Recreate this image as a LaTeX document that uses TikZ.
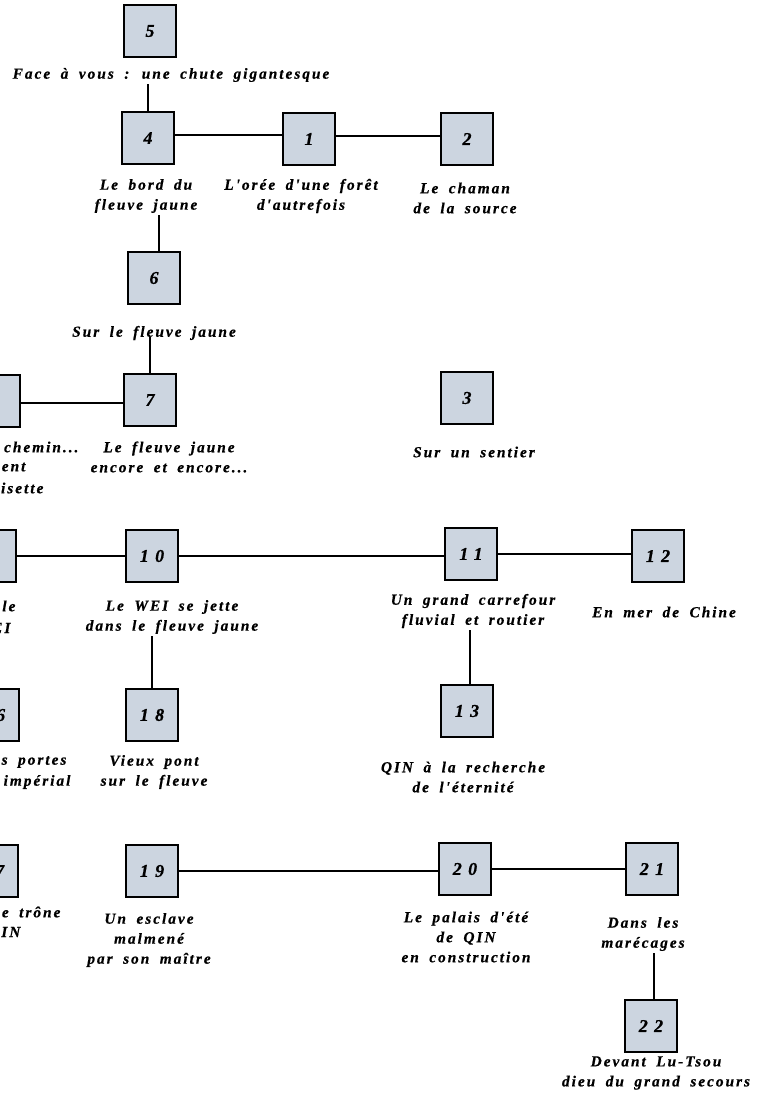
\documentclass[tikz,border=0pt]{standalone}
\usepackage{fontspec}
\newfontfamily\lblfont{Liberation Serif}[LetterSpace=13,WordSpace=1.8,FakeBold=0.6]
\newfontfamily\numfont{Liberation Serif}[LetterSpace=35,FakeBold=0.6]
\definecolor{boxfill}{RGB}{204,213,224}
\begin{document}
\begin{tikzpicture}[x=0.75pt,y=-0.75pt,
  box/.style={draw=black,line width=1.9pt,fill=boxfill,minimum size=38.8pt,inner sep=0pt,
    font=\numfont\bfseries\itshape\fontsize{13.5}{15}\selectfont},
  lbl/.style={align=center,inner sep=1pt,
    font=\lblfont\bfseries\itshape\fontsize{11.5}{15}\selectfont},
  conn/.style={line width=1.3pt}]
\useasboundingbox (0,0) rectangle (756,1094);
\clip (0,0) rectangle (756,1094);
% row 1
\node[box] (b5) at (150,31) {5};
\node[lbl] (t5) at (171,75) {Face à vous : une chute gigantesque};
\node[box] (b4) at (148,138) {4};
\node[box] (b1) at (309,139) {1};
\node[box] (b2) at (467,139) {2};
\node[lbl] (t4) at (146,196) {Le bord du\\fleuve jaune};
\node[lbl] (t1) at (301,196) {L'orée d'une forêt\\d'autrefois};
\node[lbl] (t2) at (465,198) {Le chaman\\de la source};
\node[box] (b6) at (154,278) {6};
\node[lbl] (t6) at (154,333) {Sur le fleuve jaune};
% row 2
\node[box] (b8) at (-6,401) {};
\node[box] (b7) at (150,400) {7};
\node[box] (b3) at (467,398) {3};
\node[lbl] (t7) at (169,457) {Le fleuve jaune\\encore et encore...};
\node[lbl,anchor=east] (t8a) at (80,447) {chemin...};
\node[lbl,anchor=east] (t8b) at (27,467) {sent};
\node[lbl,anchor=east] (t8c) at (45,488) {isette};
\node[lbl] (t3) at (474,452) {Sur un sentier};
% row 3
\node[box] (b9) at (-10,556) {};
\node[box] (b10) at (152,556) {10};
\node[box] (b11) at (471,554) {11};
\node[box] (b12) at (658,556) {12};
\node[lbl,anchor=east] (t9a) at (17,606) {le};
\node[lbl,anchor=east] (t9b) at (12,628) {EI};
\node[lbl] (t10) at (172,617) {Le WEI se jette\\dans le fleuve jaune};
\node[lbl] (t11) at (473,611) {Un grand carrefour\\fluvial et routier};
\node[lbl] (t12) at (664,612) {En mer de Chine};
% row 4
\node[box] (b16) at (-7,715) {16};
\node[box] (b18) at (152,715) {18};
\node[box] (b13) at (467,711) {13};
\node[lbl,anchor=east] (t16a) at (68,762) {s portes};
\node[lbl,anchor=east] (t16b) at (72,782) {impérial};
\node[lbl] (t18) at (154,772) {Vieux pont\\sur le fleuve};
\node[lbl] (t13) at (463,777) {QIN à la recherche\\de l'éternité};
% row 5
\node[box] (b17) at (-8,871) {17};
\node[box] (b19) at (152,871) {19};
\node[box] (b20) at (465,869) {20};
\node[box] (b21) at (652,869) {21};
\node[lbl,anchor=east] (t17a) at (62,912) {e trône};
\node[lbl,anchor=east] (t17b) at (22,932) {IN};
\node[lbl] (t19) at (149,940) {Un esclave\\malmené\\par son maître};
\node[lbl] (t20) at (466,937) {Le palais d'été\\de QIN\\en construction};
\node[lbl] (t21) at (643,934) {Dans les\\marécages};
\node[box] (b22) at (651,1026) {22};
\node[lbl] (t22) at (656,1073) {Devant Lu-Tsou\\dieu du grand secours};
% connectors
\draw[conn] (b4.north) -- (b4.north |- t5.south);
\draw[conn] ([yshift=2pt]b4.east) -- ([yshift=2pt]b4.east -| b1.west);
\draw[conn] ([yshift=2pt]b1.east) -- ([yshift=2pt]b1.east -| b2.west);
\draw[conn] ([xshift=3.5pt]b6.north) -- ([xshift=3.5pt]b6.north |- t4.south);
\draw[conn] (b7.north) -- ([yshift=-3pt]b7.north |- t6.center);
\draw[conn] ([yshift=-1.5pt]b8.east) -- ([yshift=-1.5pt]b8.east -| b7.west);
\draw[conn] (b9.east) -- (b9.east -| b10.west);
\draw[conn] (b10.east) -- (b10.east -| b11.west);
\draw[conn] (b11.east) -- (b11.east -| b12.west);
\draw[conn] (b18.north) -- (b18.north |- t10.south);
\draw[conn] ([xshift=2.5pt]b13.north) -- ([xshift=2.5pt]b13.north |- t11.south);
\draw[conn] (b19.east) -- (b19.east -| b20.west);
\draw[conn] (b20.east) -- (b20.east -| b21.west);
\draw[conn] ([xshift=2pt]b22.north) -- ([xshift=2pt]b22.north |- t21.south);
\end{tikzpicture}
\end{document}
